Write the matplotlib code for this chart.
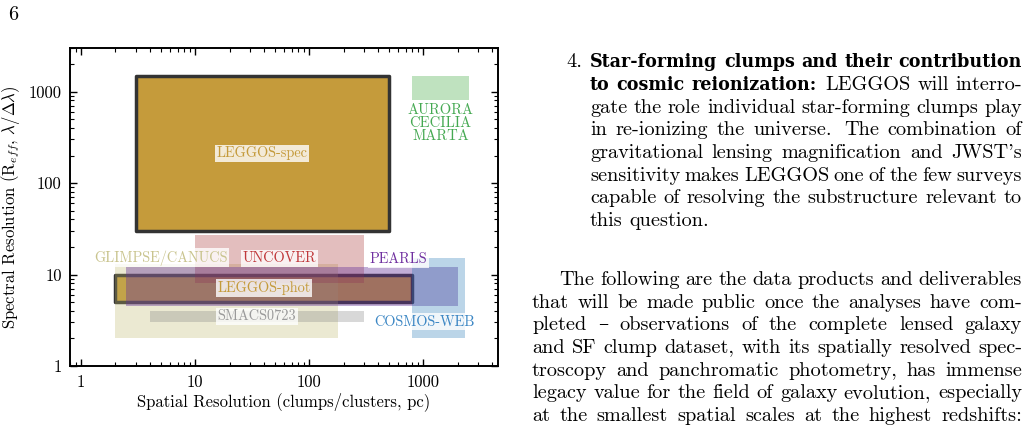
import matplotlib.pyplot as plt
from matplotlib.patches import Rectangle
from matplotlib.ticker import NullFormatter

plt.rcParams['font.family'] = ['cmr10', 'DejaVu Serif']
plt.rcParams['mathtext.fontset'] = 'cm'
plt.rcParams['axes.formatter.use_mathtext'] = True

# survey boxes (spatial resolution in pc, spectral resolution R)
surveys = ['LEGGOS-spec', 'LEGGOS-phot', 'GLIMPSE/CANUCS', 'UNCOVER', 'PEARLS',
           'SMACS0723', 'COSMOS-WEB', 'AURORA\nCECILIA\nMARTA']
x_lo = [3, 2, 2, 10, 2.5, 4, 800, 800]
x_hi = [500, 800, 180, 300, 2000, 300, 2300, 2500]
y_lo = [30, 5, 2, 8, 4.5, 3, 2, 800]
y_hi = [1500, 10, 13, 27, 12, 4, 15, 1500]
label_x = [38.7, 40, 5.0, 54.8, 600, 34.6, 1020, 1414]
label_y = [212, 7.1, 15.2, 15, 14.8, 3.5, 3.05, 450]

fill_colors = ['#c59b3b', '#c59b3b', 'darkkhaki', 'brown', 'rebeccapurple', 'gray', 'tab:blue', 'tab:green']
fill_alpha = [1, 1, 0.3, 0.3, 0.4, 0.3, 0.3, 0.3]
text_colors = ['#c49a3a', '#c49a3a', '#c9c48e', '#c0393b', '#7030a0', '#9a9a9a', '#3b86c4', '#45a952']
outlined = [True, True, False, False, False, False, False, False]

x_ticks = [1, 10, 100, 1000]
x_ticklabels = ['1', '10', '100', '1000']
y_ticks = [1, 10, 100, 1000]
y_ticklabels = ['1', '10', '100', '1000']

W, H = 1030, 437
fig = plt.figure(figsize=(W / 100, H / 100), dpi=100)
ax = fig.add_axes([70 / W, 1 - 366 / H, 428 / W, 318 / H])
ax.set_xscale('log')
ax.set_yscale('log')
ax.set_xlim(0.8, 4500)
ax.set_ylim(1, 3000)

for i, name in enumerate(surveys):
    if outlined[i]:
        r = Rectangle((x_lo[i], y_lo[i]), x_hi[i] - x_lo[i], y_hi[i] - y_lo[i],
                      facecolor=fill_colors[i], edgecolor='#333333', lw=2.5,
                      joinstyle='round', zorder=1)
    else:
        r = Rectangle((x_lo[i], y_lo[i]), x_hi[i] - x_lo[i], y_hi[i] - y_lo[i],
                      facecolor=fill_colors[i], alpha=fill_alpha[i], edgecolor='none', zorder=2)
    ax.add_patch(r)

for i, name in enumerate(surveys):
    if '\n' in name:
        ax.text(label_x[i], label_y[i], name, color=text_colors[i], fontsize=10.5,
                ha='center', va='center', linespacing=0.95, zorder=5)
    else:
        ax.text(label_x[i], label_y[i], name, color=text_colors[i], fontsize=10.3,
                ha='center', va='center', zorder=5,
                bbox=dict(boxstyle='square,pad=0.12', facecolor='white', alpha=0.8, edgecolor='none'))

ax.set_xticks(x_ticks, labels=x_ticklabels)
ax.set_yticks(y_ticks, labels=y_ticklabels)
ax.xaxis.set_minor_formatter(NullFormatter())
ax.yaxis.set_minor_formatter(NullFormatter())
ax.tick_params(which='both', direction='in', top=True, right=True, labelsize=12)
ax.tick_params(which='major', length=5, width=1, pad=6)
ax.tick_params(which='minor', length=2.8, width=0.8)
for s in ax.spines.values():
    s.set_linewidth(1.4)

ax.set_xlabel('Spatial Resolution (clumps/clusters, pc)', fontsize=12)
ax.set_ylabel(r'Spectral Resolution (R$_{eff}$, $\lambda/\Delta\lambda$)', fontsize=12)
ax.xaxis.set_label_coords(0.5, -0.083)
ax.yaxis.set_label_coords(-0.112, 0.5)

# page text on the right
FS = 14.6
item_lines = [
    ('Star-forming clumps and their contribution', ''),
    ('to cosmic reionization:', 'LEGGOS will interro-'),
    ('', 'gate the role individual star-forming clumps play'),
    ('', 'in re-ionizing the universe.  The combination of'),
    ('', "gravitational lensing magnification and JWST's"),
    ('', 'sensitivity makes LEGGOS one of the few surveys'),
    ('', 'capable of resolving the substructure relevant to'),
    ('', 'this question.'),
]
para_lines = [
    'The following are the data products and deliverables',
    'that will be made public once the analyses have com-',
    'pleted \u2013 observations of the complete lensed galaxy',
    'and SF clump dataset, with its spatially resolved spec-',
    'troscopy and panchromatic photometry, has immense',
    'legacy value for the field of galaxy evolution, especially',
    'at the smallest spatial scales at the highest redshifts:',
]

renderer = fig.canvas.get_renderer()
regular = dict(family=['cmr10', 'DejaVu Serif'], fontsize=FS)
# size the bold run so the first (all-bold) line sets with normal spacing
probe = [fig.text(0, 0, w, family='DejaVu Serif', weight='bold', fontsize=10)
         for w in item_lines[0][0].split()]
probe_w = sum(t.get_window_extent(renderer).width for t in probe)
for t in probe:
    t.remove()
bold = dict(family='DejaVu Serif', weight='bold',
            fontsize=10 * (432 - 4 * 6.5) / probe_w)


def set_line(words, x0, x1, base, justify=True):
    texts = [fig.text(0, 0, w, va='baseline', ha='left', **(bold if b else regular))
             for w, b in words]
    widths = [t.get_window_extent(renderer).width for t in texts]
    weights = [1.4 if w[-1] in '.:' else 1.0 for w, b in words[:-1]]
    if justify and len(words) > 1:
        unit = (x1 - x0 - sum(widths)) / sum(weights)
    else:
        unit = FS * 100 / 72 * 0.333
    x = x0
    for k, t in enumerate(texts):
        t.set_position((x / W, 1 - base / H))
        if k < len(weights):
            x += widths[k] + unit * weights[k]


fig.text(8 / W, 1 - 20.5 / H, '6', va='baseline', ha='left', **regular)
fig.text(566 / W, 1 - 67.3 / H, '4.', va='baseline', ha='left', **regular)
for k, (b, n) in enumerate(item_lines):
    words = [(w, True) for w in b.split()] + [(w, False) for w in n.split()]
    set_line(words, 590, 1022, 67.3 + 22.65 * k, justify=k < len(item_lines) - 1)

for k, line in enumerate(para_lines):
    words = [(w, False) for w in line.split()]
    x0 = 559 if k == 0 else 532
    set_line(words, x0, 1022, 285 + 22.65 * k)

fig.savefig('out.png', dpi=100)
